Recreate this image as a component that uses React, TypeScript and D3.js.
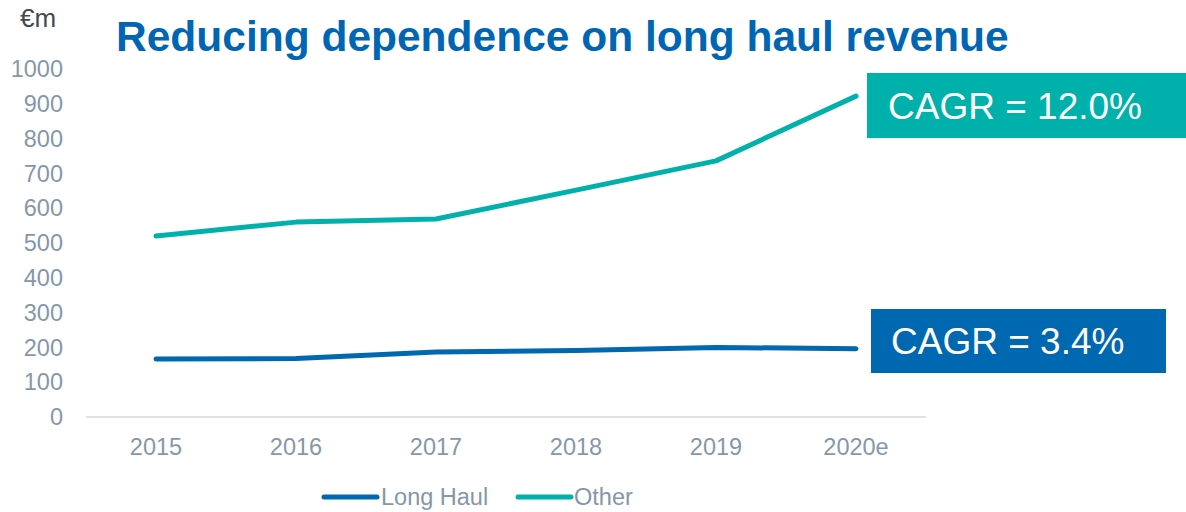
import React, { useEffect, useRef } from "react";
import * as d3 from "d3";

const years = ["2015", "2016", "2017", "2018", "2019", "2020e"];
const longHaul = [167, 168, 187, 191, 200, 196];
const other = [520, 560, 569, 652, 736, 922];
const yTicks = [0, 100, 200, 300, 400, 500, 600, 700, 800, 900, 1000];
const seriesNames = ["Long Haul", "Other"];
const cagrLabels = ["CAGR = 3.4%", "CAGR = 12.0%"];

const BLUE = "#0068b1";
const TEAL = "#00b1ab";
const GREY = "#8597a8";
const FONT = "Liberation Sans, Arial, sans-serif";
const LABEL = 23.5;

export default function App() {
  const ref = useRef<SVGSVGElement>(null);

  useEffect(() => {
    const svg = d3.select(ref.current);
    svg.selectAll("*").remove();

    const x = d3.scalePoint().domain(years).range([156, 856]);
    const y = d3.scaleLinear().domain([0, 1000]).range([417, 69]);

    // title + unit
    svg.append("text").attr("x", 116).attr("y", 51)
      .attr("fill", "#0066b3").attr("font-family", FONT)
      .attr("font-weight", "bold").attr("font-size", 42.5)
      .text("Reducing dependence on long haul revenue");
    svg.append("text").attr("x", 20).attr("y", 27)
      .attr("fill", "#404a52").attr("font-family", FONT).attr("font-size", 26)
      .text("€m");

    // y labels
    svg.append("g").selectAll("text").data(yTicks).join("text")
      .attr("x", 63).attr("y", d => y(d)).attr("dy", "0.35em")
      .attr("text-anchor", "end").attr("fill", GREY)
      .attr("font-family", FONT).attr("font-size", LABEL)
      .text(d => d);

    // x axis line + labels
    svg.append("line").attr("x1", 86).attr("x2", 926)
      .attr("y1", y(0)).attr("y2", y(0))
      .attr("stroke", "#dde3e9").attr("stroke-width", 2);
    svg.append("g").selectAll("text").data(years).join("text")
      .attr("x", d => x(d)!).attr("y", 447).attr("dy", "0.35em")
      .attr("text-anchor", "middle").attr("fill", GREY)
      .attr("font-family", FONT).attr("font-size", LABEL)
      .text(d => d);

    const line = d3.line<number>().x((_, i) => x(years[i])!).y(d => y(d));
    const series = [longHaul, other];
    const colors = [BLUE, TEAL];
    series.forEach((s, i) => {
      svg.append("path").datum(s).attr("d", line)
        .attr("fill", "none").attr("stroke", colors[i])
        .attr("stroke-width", 5).attr("stroke-linecap", "round")
        .attr("stroke-linejoin", "round");
    });

    // CAGR boxes
    const boxes = [
      { x: 871, y: 309, w: 295, h: 64, tx: 891 },
      { x: 867, y: 73, w: 319, h: 65, tx: 888 },
    ];
    boxes.forEach((b, i) => {
      svg.append("rect").attr("x", b.x).attr("y", b.y)
        .attr("width", b.w).attr("height", b.h).attr("fill", colors[i]);
      svg.append("text").attr("x", b.tx).attr("y", b.y + b.h / 2)
        .attr("dy", "0.36em").attr("fill", "#fff")
        .attr("font-family", FONT).attr("font-size", 37)
        .text(cagrLabels[i]);
    });

    // legend
    const leg = [
      { lx: 324, tx: 381 },
      { lx: 518, tx: 574 },
    ];
    leg.forEach((l, i) => {
      svg.append("line").attr("x1", l.lx).attr("x2", l.lx + 53)
        .attr("y1", 497).attr("y2", 497)
        .attr("stroke", colors[i]).attr("stroke-width", 5)
        .attr("stroke-linecap", "round");
      svg.append("text").attr("x", l.tx).attr("y", 497).attr("dy", "0.35em")
        .attr("fill", GREY).attr("font-family", FONT).attr("font-size", LABEL)
        .text(seriesNames[i]);
    });
  }, []);

  return (
    <svg ref={ref} width={1186} height={512}
      style={{ position: "absolute", left: 0, top: 0, background: "#fff" }} />
  );
}
